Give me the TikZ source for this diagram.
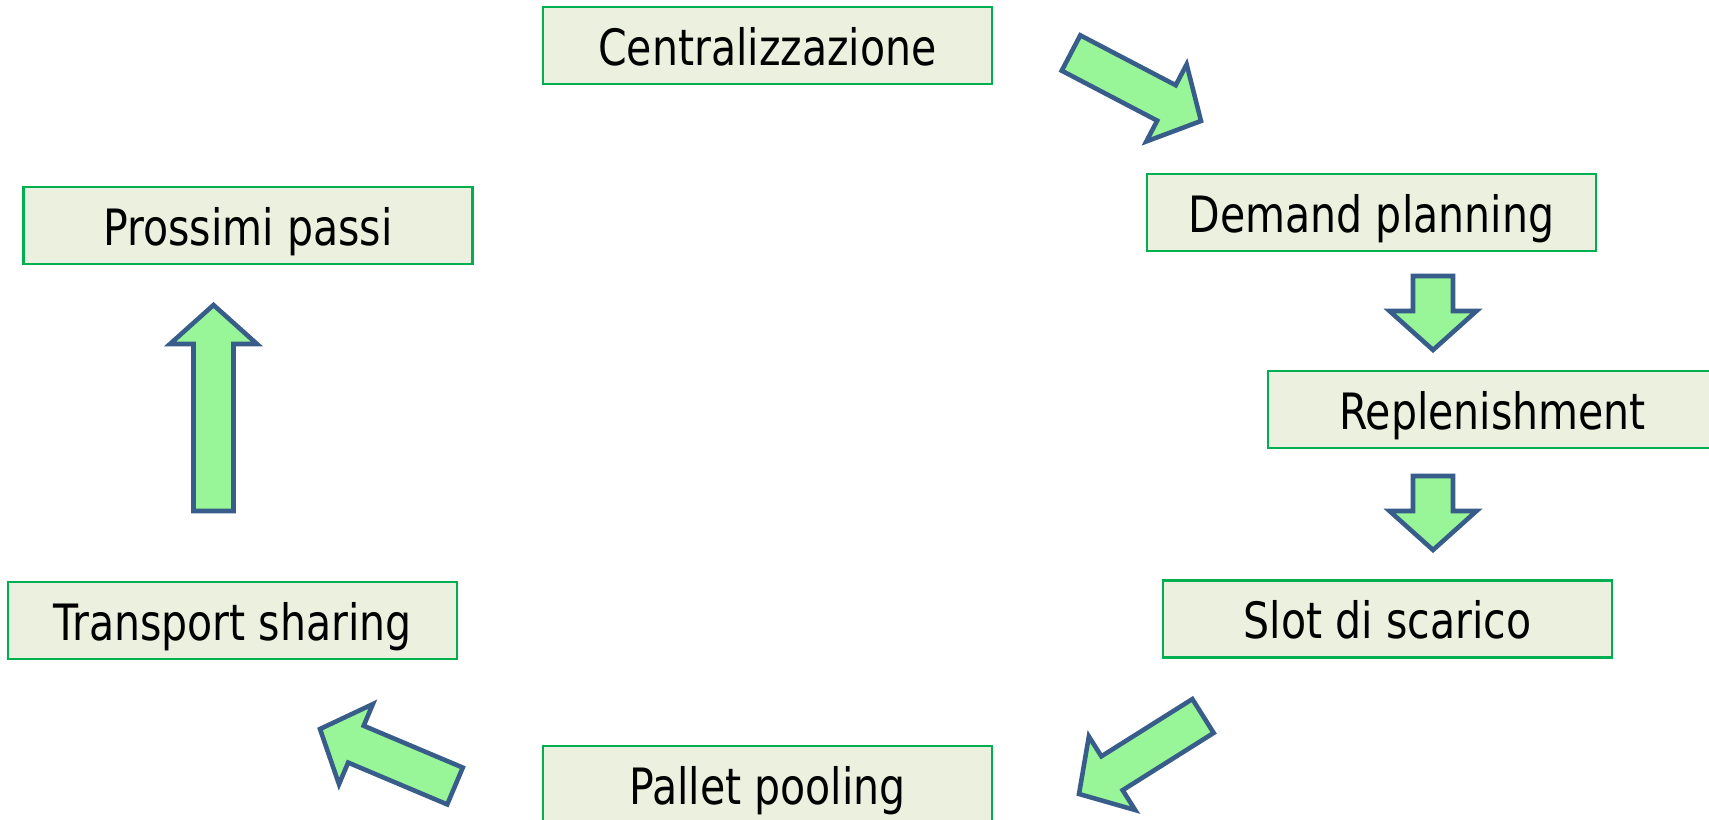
\documentclass[tikz,border=0pt]{standalone}
\usepackage{fontspec}
\setmainfont{DejaVu Sans}[FakeStretch=0.82]
\usetikzlibrary{calc}

\definecolor{boxfill}{HTML}{EBF1DE}
\definecolor{boxline}{HTML}{00B050}
\definecolor{arrfill}{HTML}{98F598}
\definecolor{arrline}{HTML}{385D8A}

\tikzset{
  stage/.style={draw=boxline, fill=boxfill, line width=1.2pt, minimum width=8.98cm, minimum height=1.54cm, inner sep=0pt,
    text height=0.86cm, text depth=0.06cm, font=\fontsize{28.5}{30}\selectfont},
  blockarr/.style={draw=arrline, fill=arrfill, line width=2.6pt, line join=miter},
}
\newcommand{\blockarrow}[2]{%
  \coordinate (base) at ($(#2)!0.78cm!(#1)$);
  \draw[blockarr] ($(#1)!0.4cm!90:(#2)$) -- ($(base)!0.4cm!90:(#2)$) -- ($(base)!0.87cm!90:(#2)$) -- (#2)
    -- ($(base)!0.87cm!-90:(#2)$) -- ($(base)!0.4cm!-90:(#2)$) -- ($(#1)!0.4cm!-90:(#2)$) -- cycle;}

\begin{document}
\begin{tikzpicture}[x=0.02cm, y=-0.02cm]
  \useasboundingbox (0,0) rectangle (1709,820);
  \clip (0,0) rectangle (1709,820);

  \node[stage] (cent) at (767.5,45.5) {Centralizzazione};
  \node[stage] (dem) at (1371.5,212.5) {Demand planning};
  \node[stage] (rep) at (1492.5,409.5) {Replenishment};
  \node[stage] (slot) at (1387.5,619) {Slot di scarico};
  \node[stage] (pal) at (767.5,784.5) {Pallet pooling};
  \node[stage] (trans) at (232.5,620.5) {Transport sharing};
  \node[stage] (pross) at (248,225.5) {Prossimi passi};

  \coordinate (cd1) at (1071,53);   \coordinate (cd2) at (1201,121);
  \coordinate (dr1) at (1433,276);  \coordinate (dr2) at (1433,350);
  \coordinate (rs1) at (1433,476);  \coordinate (rs2) at (1433,550);
  \coordinate (sp1) at (1203,716);  \coordinate (sp2) at (1079,794);
  \coordinate (pt1) at (455,786);   \coordinate (pt2) at (320,729);
  \coordinate (tp1) at (213.5,511); \coordinate (tp2) at (213.5,305);

  \blockarrow{cd1}{cd2}
  \blockarrow{dr1}{dr2}
  \blockarrow{rs1}{rs2}
  \blockarrow{sp1}{sp2}
  \blockarrow{pt1}{pt2}
  \blockarrow{tp1}{tp2}
\end{tikzpicture}
\end{document}
